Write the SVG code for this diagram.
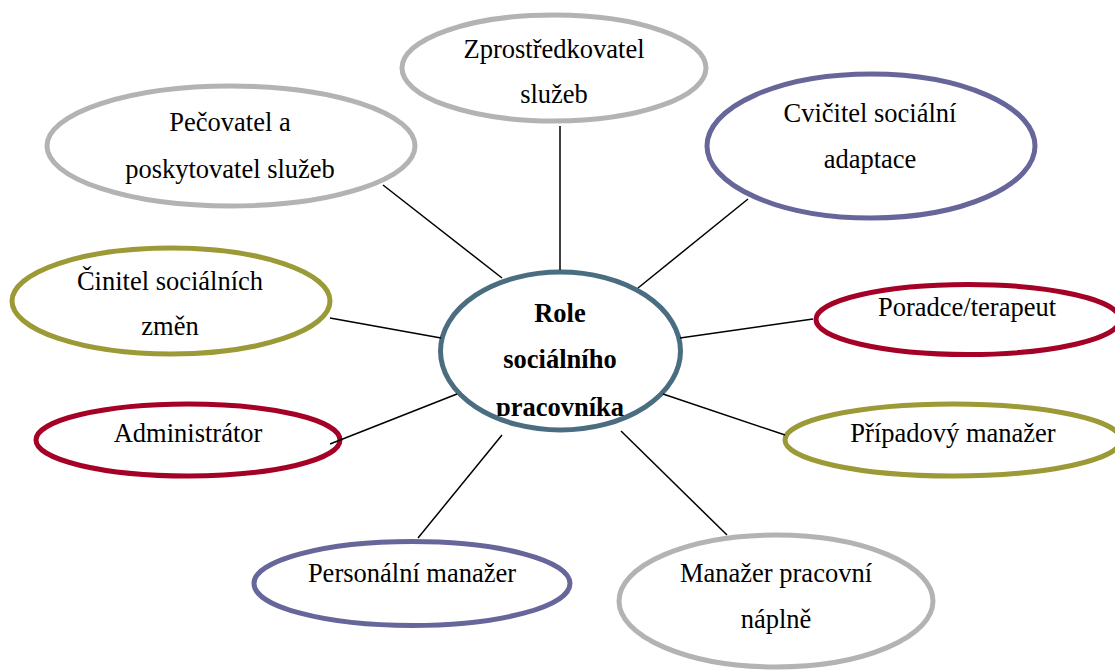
<svg xmlns="http://www.w3.org/2000/svg" width="1115" height="670" viewBox="0 0 1115 670">
<style>
.n{fill:#fff;stroke-width:5}
.gray{stroke:#B3B3B3}
.purple{stroke:#66669A}
.red{stroke:#A50026}
.olive{stroke:#9B9A36}
.center{stroke:#4B6D81}
text{font-family:"Liberation Serif","Times New Roman",serif;font-size:26.5px;fill:#000;text-anchor:middle}
.b{font-weight:bold}
.c line{stroke:#000;stroke-width:1.5}
</style>
<defs>
<clipPath id="cc"><rect x="430" y="260" width="260" height="156"/></clipPath>
</defs>
<g id="node-pecovatel"><ellipse class="n gray" cx="231" cy="146" rx="184" ry="60"/><text x="230" y="131">Pečovatel a</text><text x="230" y="178">poskytovatel služeb</text></g>
<g id="node-zprostredkovatel"><ellipse class="n gray" cx="554" cy="68" rx="152" ry="53"/><text x="554" y="58">Zprostředkovatel</text><text x="554" y="103">služeb</text></g>
<g id="node-cvicitel"><ellipse class="n purple" cx="871" cy="146" rx="164" ry="72"/><text x="870" y="122">Cvičitel sociální</text><text x="870" y="168">adaptace</text></g>
<g id="node-cinitel"><ellipse class="n olive" cx="171" cy="301" rx="159" ry="53"/><text x="170" y="290">Činitel sociálních</text><text x="170" y="335">změn</text></g>
<g id="node-poradce"><ellipse class="n red" cx="968" cy="319.5" rx="152" ry="35"/><text x="967" y="316">Poradce/terapeut</text></g>
<g id="node-administrator"><ellipse class="n red" cx="188" cy="440" rx="152" ry="36"/><text x="188" y="442">Administrátor</text></g>
<g id="node-pripadovy"><ellipse class="n olive" cx="953" cy="440" rx="168" ry="36"/><text x="953" y="442">Případový manažer</text></g>
<g id="node-personalni"><ellipse class="n purple" cx="412" cy="583.5" rx="158" ry="42"/><text x="412" y="582">Personální manažer</text></g>
<g id="node-manazer"><ellipse class="n gray" cx="776" cy="601" rx="157" ry="66"/><text x="776" y="582">Manažer pracovní</text><text x="776" y="628">náplně</text></g>
<g id="node-center"><ellipse class="n center" cx="560.5" cy="351" rx="120" ry="79"/><g clip-path="url(#cc)"><text class="b" x="560" y="322">Role</text><text class="b" x="560" y="368">sociálního</text><text class="b" x="560" y="416">pracovníka</text></g></g>
<g id="connectors" class="c">
<line x1="383" y1="185" x2="502" y2="278"/>
<line x1="560" y1="126" x2="560" y2="270"/>
<line x1="748" y1="199" x2="638" y2="288"/>
<line x1="330" y1="318" x2="441" y2="338"/>
<line x1="680" y1="338" x2="813" y2="319"/>
<line x1="330" y1="444" x2="457" y2="394"/>
<line x1="663" y1="394" x2="785" y2="435"/>
<line x1="418" y1="538" x2="502" y2="435"/>
<line x1="621" y1="431" x2="727" y2="535"/>
</g>
</svg>
